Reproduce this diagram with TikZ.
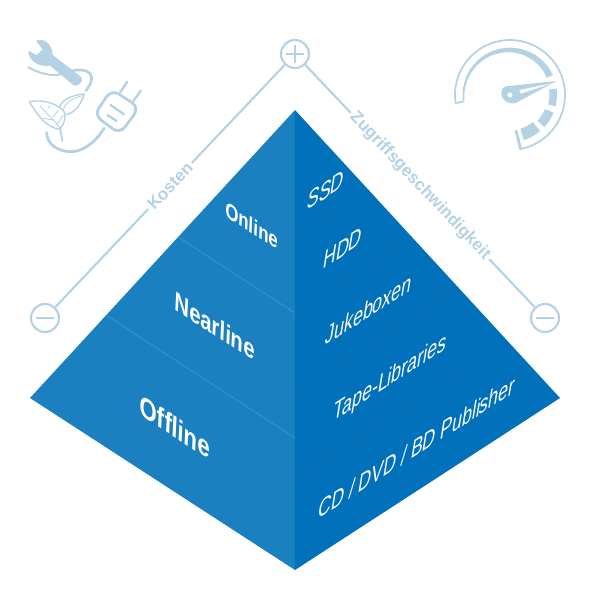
\documentclass[tikz,border=0pt]{standalone}
\usepackage{fontspec}
\setmainfont{Liberation Sans}
\usepackage{xcolor}
\definecolor{faceL}{HTML}{1B80C0}
\definecolor{faceR}{HTML}{0071BA}
\definecolor{sepL}{HTML}{3A92CA}
\definecolor{sepR}{HTML}{1465A8}
\definecolor{pale}{HTML}{B5D2E5}
\tikzset{
	sign/.style = {circle, draw = pale, line width = 1.2pt, minimum size = 0.56cm, inner sep = 0pt},
	axislabel/.style = {sloped, fill = white, inner sep = 1.5pt, text = pale, font = \bfseries\fontsize{9.7}{12}\selectfont},
	levelL/.style = {transform shape, text = white, inner sep = 0pt, font = \bfseries\fontsize{#1}{16}\selectfont},
	levelR/.style = {transform shape, text = white, inner sep = 0pt, font = \fontsize{12}{14}\selectfont},
}
\begin{document}
\begin{tikzpicture}[x = 0.02cm, y = -0.02cm]
	\useasboundingbox (0,0) rectangle (600,600);
	
	\fill[faceL] (295,110) -- (30,398) -- (295,570) -- cycle;
	\fill[faceR] (295,110) -- (560,398) -- (295,570) -- cycle;
	
	\draw[sepL, line width = 0.5pt] (295,313) -- (178,237);
	\draw[sepL, line width = 0.5pt] (295,438) -- (106,315);
	\draw[sepR, line width = 0.5pt] (295,238) -- (369,190);
	\draw[sepR, line width = 0.5pt] (295,313) -- (412,237);
	\draw[sepR, line width = 0.5pt] (295,393) -- (458,287);
	\draw[sepR, line width = 0.5pt] (295,480) -- (508,342);
	
	\node[levelL = 11.4, cm = {0.84,-0.54,0.05,1.1,(252,225)}] (online) {Online};
	\node[levelL = 13.7, cm = {0.84,-0.54,0.05,1.1,(215,326)}] (nearline) {Nearline};
	\node[levelL = 15, cm = {0.84,-0.54,0.05,1.1,(175,427)}] (offline) {Offline};
	
	\node[levelR, cm = {0.84,0.54,0.2,1.25,(326,190)}] (ssd) {SSD};
	\node[levelR, cm = {0.84,0.54,0.2,1.25,(343,248)}] (hdd) {HDD};
	\node[levelR, cm = {0.84,0.54,0.2,1.25,(369,309)}] (jukebox) {Jukeboxen};
	\node[levelR, cm = {0.84,0.54,0.2,1.25,(390,379)}] (tape) {Tape-Libraries};
	\node[levelR, cm = {0.84,0.54,0.2,1.25,(417,447)}] (disc) {CD / DVD / BD Publisher};
	
	\node[sign] (plus) at (295,54) {};
	\node[sign] (minusL) at (45,318) {};
	\node[sign] (minusR) at (545,318) {};
	
	\draw[pale, line width = 1.2pt] (plus) -- node[axislabel] (kosten) {Kosten} (minusL);
	\draw[pale, line width = 1.2pt] (plus) -- node[axislabel] (speed) {Zugriffsgeschwindigkeit} (minusR);
	
	\draw[pale, line width = 1.1pt, shift = (plus)] (-9,0) -- (9,0) (0,-9) -- (0,9);
	\draw[pale, line width = 1.1pt, shift = (minusL)] (-9,0) -- (9,0);
	\draw[pale, line width = 1.1pt, shift = (minusR)] (-9,0) -- (9,0);
	
	% tools
	\begin{scope}[shift = {(0,20)}, x = 0.00667cm, y = -0.00667cm]
		\fill[pale] (108,62) .. controls (130,52) and (158,72) .. (158,105) -- (245,172) .. controls (250,185) and (235,200) .. (222,197) -- (150,137) .. controls (115,142) and (85,122) .. (85,92) -- (110,105) -- (128,88) -- cycle;
		
		\draw[pale, line width = 1.1pt, line cap = round] (85,142) .. controls (115,158) and (150,170) .. (182,163);
		\draw[pale, line width = 1.5pt, line cap = round] (218,152) .. controls (250,145) and (275,155) .. (275,175) .. controls (275,190) and (265,200) .. (258,212);
		
		\draw[pale, line width = 1.6pt, rounded corners = 5pt] (335,208) -- (418,262) -- (360,342) -- (282,285) -- cycle;
		\draw[pale, line width = 1.3pt, line cap = round] (360,218) -- (382,185) (397,248) -- (422,212);
		\draw[pale, line width = 1.3pt, line cap = round] (332,255) -- (372,283) (322,285) -- (350,303);
		\draw[pale, line width = 1.6pt, line cap = round] (312,325) .. controls (285,370) and (245,395) .. (215,395) .. controls (170,395) and (140,370) .. (140,338);
		
		\draw[pale, line width = 0.8pt, line join = round] (88,245) .. controls (140,235) and (195,262) .. (195,285) .. controls (195,305) and (188,318) .. (178,328) .. controls (140,322) and (115,290) .. (88,245);
		\draw[pale, line width = 0.8pt, line join = round] (178,262) .. controls (185,240) and (215,225) .. (253,222) .. controls (245,250) and (225,280) .. (195,285);
		\draw[pale, line width = 0.5pt] (190,268) .. controls (195,250) and (215,235) .. (248,227);
		\draw[pale, line width = 1pt, line cap = round] (180,322) -- (187,362);
		\draw[pale, line width = 0.5pt] (120,258) -- (180,322) (145,265) -- (150,255) (160,290) -- (175,270) (130,295) -- (162,300) (172,312) -- (190,285);
	\end{scope}
	
	% gauge
	\begin{scope}[shift = {(440,25)}, x = 0.00667cm, y = -0.00667cm]
		\draw[pale, line width = 1pt] (45,235) -- (70,230) (210,210) ++(171.4:165) arc[start angle = 171.4, end angle = 438, radius = 165];
		\draw[pale, line width = 1.6pt] (228,316) -- (243,375);
		
		\fill[pale] plot[domain = 172:335, samples = 40] ({210+142*cos(\x)},{210+142*sin(\x)}) -- plot[domain = 335:172, samples = 40] ({210+(138-0.1*(\x-172))*cos(\x)},{210+(138-0.1*(\x-172))*sin(\x)}) -- cycle;
		
		\foreach \from/\to/\inner in {352/374/118, 382/403/113, 410/433/106}
			\fill[pale] plot[domain = \from:\to, samples = 12] ({210+141*cos(\x)},{210+141*sin(\x)}) -- plot[domain = \to:\from, samples = 12] ({210+\inner*cos(\x)},{210+\inner*sin(\x)}) -- cycle;
		
		\fill[pale, even odd rule] (350,168) -- (197,184) .. controls (175,190) and (178,238) .. (225,235) -- cycle (210,210) circle[radius = 8];
		\fill[white] (335,175) -- (238,195) -- (243,206) -- cycle;
	\end{scope}
\end{tikzpicture}
\end{document}
